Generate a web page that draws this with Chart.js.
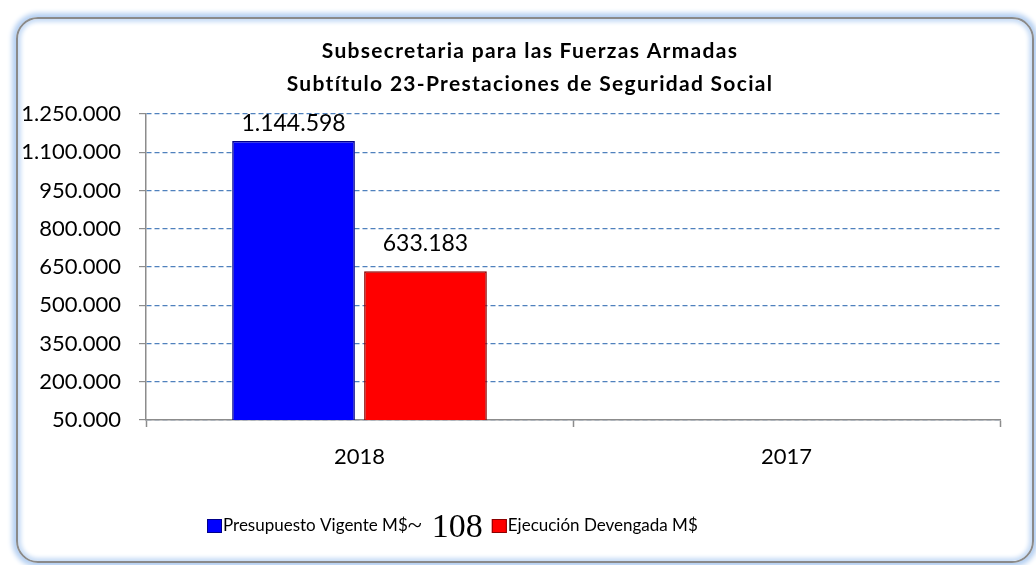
<!DOCTYPE html>
<html>
<head>
<meta charset="utf-8">
<script src="https://cdn.jsdelivr.net/npm/chart.js@4.4.1/dist/chart.umd.min.js"></script>
<style>
  html, body { margin: 0; padding: 0; background: #fff; }
  #wrap { position: relative; width: 1036px; height: 565px; overflow: hidden; }
  #frame {
    position: absolute; left: 16px; top: 17px; width: 1018px; height: 546px;
    box-sizing: border-box; border: 2px solid #8a8a8a; border-radius: 22px;
    box-shadow: 0 0 5px 4px #b5d0f2, inset 0 0 4px 3px #c7dcf6;
  }
  #chart { position: absolute; left: 0; top: 0; }
</style>
</head>
<body>
<div id="wrap">
  <div id="frame"></div>
  <canvas id="chart" width="1036" height="565"></canvas>
</div>
<script>
// data
const years = ["2018", "2017"];
const presupuesto = [1144598, 0];
const ejecucion = [633183, 0];
const seriesNames = ["Presupuesto Vigente M$", "Ejecución Devengada M$"];
const titleLines = ["Subsecretaria para las Fuerzas Armadas", "Subtítulo 23-Prestaciones de Seguridad Social"];
const legendNote = "108";
const yMin = 50000, yMax = 1250000, yStep = 150000;

const FONT = "Lato, 'Open Sans', sans-serif";

function fmt(v){ return String(Math.round(v)).replace(/\B(?=(\d{3})+(?!\d))/g, "."); }

const labelOffsets = [6, 16];

const decor = {
  id: "decor",
  afterDatasetsDraw(chart) {
    const ctx = chart.ctx;
    ctx.save();
    ctx.fillStyle = "#000";
    ctx.font = "23px " + FONT;
    ctx.textAlign = "center";
    ctx.textBaseline = "bottom";
    chart.data.datasets.forEach((ds, di) => {
      const meta = chart.getDatasetMeta(di);
      meta.data.forEach((bar, i) => {
        const v = ds.data[i];
        if (v < yMin) return;
        ctx.fillText(fmt(v), bar.x, bar.y - labelOffsets[di]);
      });
    });
    ctx.restore();
  },
  afterDraw(chart) {
    const ctx = chart.ctx;
    ctx.save();
    // title
    ctx.fillStyle = "#000";
    ctx.font = "bold 21px " + FONT;
    ctx.letterSpacing = "1.3px";
    ctx.textAlign = "center";
    ctx.textBaseline = "middle";
    ctx.fillText(titleLines[0], 530, 51);
    ctx.fillText(titleLines[1], 530, 84);
    ctx.letterSpacing = "0px";

    // legend
    const colors = chart.data.datasets.map(d => d.backgroundColor);
    const ly = 526;
    let x = 207;
    ctx.textAlign = "left";
    ctx.font = "17px " + FONT;
    ctx.fillStyle = colors[0];
    ctx.fillRect(x, ly - 7, 15, 14);
    ctx.strokeStyle = "#00008a";
    ctx.strokeRect(x + 0.5, ly - 6.5, 14, 13);
    x += 16;
    ctx.fillStyle = "#000";
    ctx.fillText(seriesNames[0], x, ly);
    x += ctx.measureText(seriesNames[0]).width;
    ctx.font = "26px 'Liberation Serif', serif";
    ctx.fillText("~", x, ly);
    x += ctx.measureText("~").width + 10;
    ctx.font = "34px 'Liberation Serif', serif";
    ctx.fillText(legendNote, x, ly + 2);
    x += ctx.measureText(legendNote).width + 9;
    ctx.fillStyle = colors[1];
    ctx.fillRect(x, ly - 7, 15, 14);
    ctx.strokeStyle = "#8a0000";
    ctx.strokeRect(x + 0.5, ly - 6.5, 14, 13);
    x += 16;
    ctx.fillStyle = "#000";
    ctx.font = "17px " + FONT;
    ctx.fillText(seriesNames[1], x, ly);
    ctx.restore();
  }
};

new Chart(document.getElementById("chart"), {
  type: "bar",
  data: {
    labels: years,
    datasets: [
      { label: seriesNames[0], data: presupuesto, backgroundColor: "#0000ff", borderColor: "#00008a", borderWidth: 1.5 },
      { label: seriesNames[1], data: ejecucion, backgroundColor: "#ff0000", borderColor: "#8a0000", borderWidth: 1.5 }
    ]
  },
  options: {
    responsive: false,
    animation: false,
    events: [],
    categoryPercentage: 0.618,
    barPercentage: 0.93,
    layout: { padding: { left: 0, right: 36, top: 114, bottom: 0 } },
    plugins: { legend: { display: false }, title: { display: false }, tooltip: { enabled: false } },
    scales: {
      x: {
        grid: { offset: true, drawOnChartArea: false, drawTicks: true, tickLength: 7, color: "#8c8c8c", tickWidth: 1.5 },
        border: { color: "#8c8c8c", width: 1.5 },
        ticks: { color: "#000", font: { family: FONT, size: 22 }, padding: 17 },
        afterFit(scale) { scale.height = 145; }
      },
      y: {
        min: yMin, max: yMax,
        grid: { color: "#4f81bd", lineWidth: 1.2, tickLength: 7, tickColor: "#8c8c8c", tickBorderDash: [], drawTicks: true },
        border: { dash: [5, 3], color: "#8c8c8c", width: 1.5 },
        ticks: { stepSize: yStep, color: "#000", font: { family: FONT, size: 22 }, padding: 18, callback: v => fmt(v) },
        afterFit(scale) { scale.width = 146; }
      }
    }
  },
  plugins: [decor]
});
</script>
</body>
</html>
